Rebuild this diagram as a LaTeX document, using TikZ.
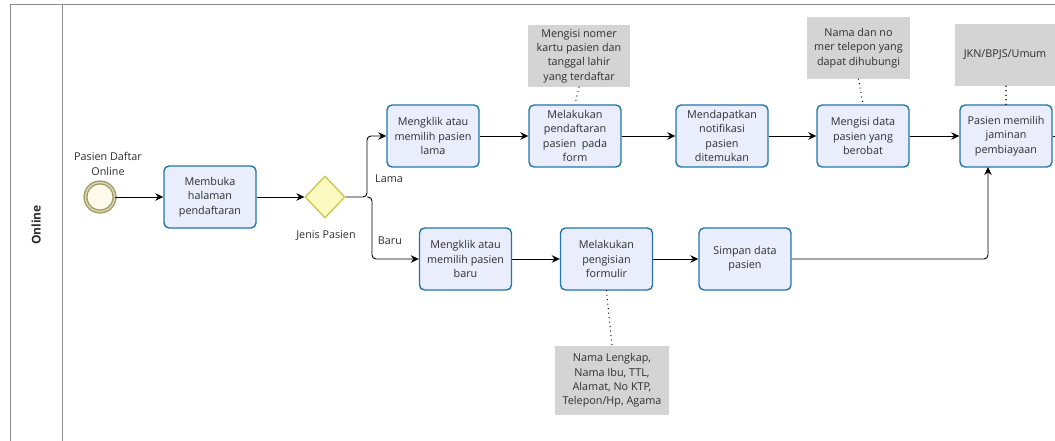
\documentclass[tikz,border=0pt]{standalone}
\usepackage{fontspec}
\setmainfont{Open Sans}
\usetikzlibrary{shapes.geometric,arrows.meta,calc}
\definecolor{taskfill}{HTML}{EAEEFC}
\definecolor{taskdraw}{HTML}{2275AC}
\definecolor{notefill}{HTML}{D4D4D4}
\definecolor{txt}{HTML}{2E2E2E}
\definecolor{evdraw}{HTML}{A09A5E}
\definecolor{evfill}{HTML}{FFFBEC}
\definecolor{gwfill}{HTML}{FBFAC0}
\definecolor{gwdraw}{HTML}{C9C64A}
\definecolor{lanecol}{HTML}{8C8C8C}
\tikzset{
  task/.style={rectangle, rounded corners=5pt, draw=taskdraw, fill=taskfill, line width=1.4pt,
    minimum width=92pt, minimum height=62pt, inner sep=1pt, align=center,
    font=\fontsize{10.8}{14.3}\selectfont, text=txt},
  note/.style={rectangle, fill=notefill, minimum width=102pt, minimum height=62pt, inner sep=1pt,
    align=center, font=\fontsize{10.8}{14.3}\selectfont, text=txt},
  lbl/.style={align=center, font=\fontsize{10.8}{14.3}\selectfont, text=txt, inner sep=0pt},
  flow/.style={line width=0.9pt, -{Stealth[length=8pt,width=7.5pt]}},
  plain/.style={line width=0.9pt},
  assoc/.style={line width=1.3pt, dash pattern=on 0.01pt off 4.5pt, line cap=round},
  lane/.style={draw=lanecol, line width=1pt}
}
\begin{document}
\begin{tikzpicture}[x=1pt,y=-1pt]
\useasboundingbox (0,0) rectangle (1055,441);
% lane frame
\draw[lane] (10,441) -- (10,5) -- (1055,5);
\draw[lane] (62,5) -- (62,441);
\node[rotate=90, font=\bfseries\fontsize{12}{14}\selectfont, text=txt] (lanelbl) at (36,225) {Online};

% start event
\node[circle, minimum size=29pt, inner sep=0pt, draw=evdraw, line width=1.3pt, double=evdraw!45!white, double distance=1.6pt, fill=evfill] (start) at (100,197) {};
\node[lbl] (startlbl) at (108,164) {Pasien Daftar\\Online};

% tasks
\node[task] (membuka) at (210,197) {Membuka\\halaman\\pendaftaran};
\node[diamond, draw=gwdraw, fill=gwfill, line width=1.3pt, minimum width=40pt, minimum height=42pt, inner sep=0pt] (gw) at (325,197) {};
\node[lbl] (gwlbl) at (326,236) {Jenis Pasien};

\node[task] (lama) at (433,136) {Mengklik atau\\memilih pasien\\lama};
\node[task] (daftar) at (575,136) {Melakukan\\pendaftaran\\pasien\ \ pada\\form};
\node[task] (notif) at (722,136) {Mendapatkan\\notifikasi\\pasien\\ditemukan};
\node[task] (isi) at (863,136) {Mengisi data\\pasien yang\\berobat};
\node[task] (pilih) at (1006,136) {Pasien memilih\\jaminan\\pembiayaan};

\node[task] (baru) at (465.5,259) {Mengklik atau\\memilih pasien\\baru};
\node[task] (formulir) at (606.5,259) {Melakukan\\pengisian\\formulir};
\node[task] (simpan) at (745,259) {Simpan data\\pasien};

% notes
\node[note] (n1) at (579,56) {Mengisi nomer\\kartu pasien dan\\tanggal lahir\\yang terdaftar};
\node[note, minimum width=103pt] (n2) at (858.5,48) {Nama dan no\\mer telepon yang\\dapat dihubungi};
\node[note, minimum width=100pt] (n3) at (1005,55) {JKN/BPJS/Umum};
\node[note, minimum width=114pt, minimum height=69pt] (n4) at (612,380.5) {Nama Lengkap,\\Nama Ibu, TTL,\\Alamat, No KTP,\\Telepon/Hp, Agama};

% labels
\node[lbl] (lamalbl) at (389,179) {Lama};
\node[lbl] (barulbl) at (390,241) {Baru};

% coordinates
\coordinate (sp1) at (367,197);
\coordinate (sp2) at (372,197);
\coordinate (pin) at (988,167);
\coordinate (pout) at (1055,136);

% flows
\draw[flow] (start) -- (membuka);
\draw[flow] (membuka) -- (gw);
\draw[flow, rounded corners=4pt] (gw.east) -- (sp1) |- (lama.west);
\draw[flow, rounded corners=4pt] (sp1) -- (sp2) |- (baru.west);
\draw[flow] (lama) -- (daftar);
\draw[flow] (daftar) -- (notif);
\draw[flow] (notif) -- (isi);
\draw[flow] (isi) -- (pilih);
\draw[plain] (pilih.east) -- (pout);
\draw[flow] (baru) -- (formulir);
\draw[flow] (formulir) -- (simpan);
\draw[flow, rounded corners=4pt] (simpan.east) -| (pin);

% associations
\draw[assoc] (n1.south) -- (daftar.north);
\draw[assoc] (n2.south) -- (isi.north);
\draw[assoc] (n3.south -| pilih.north) -- (pilih.north);
\draw[assoc] (formulir.south) -- (n4.north);
\end{tikzpicture}
\end{document}
